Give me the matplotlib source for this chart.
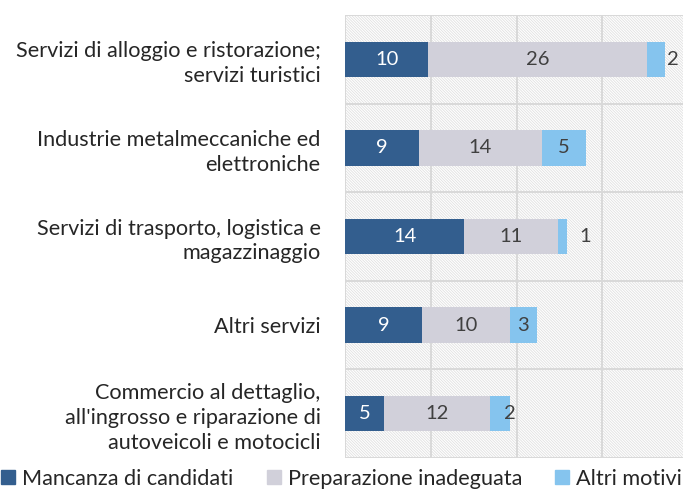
"""
Motivi della difficoltà di reperimento per settore: barre orizzontali impilate.
"""

import matplotlib.pyplot as plt
from matplotlib.lines import Line2D
from matplotlib.patches import Rectangle

# ----------------------------------------------------------------------
# Dati
# ----------------------------------------------------------------------

settori = [
    "Servizi di alloggio e ristorazione;\nservizi turistici",
    "Industrie metalmeccaniche ed\nelettroniche",
    "Servizi di trasporto, logistica e\nmagazzinaggio",
    "Altri servizi",
    "Commercio al dettaglio,\nall'ingrosso e riparazione di\nautoveicoli e motocicli",
]
mancanza_candidati = [9.7, 8.6, 13.9, 8.95, 4.55]
preparazione_inadeguata = [25.5, 14.35, 10.9, 10.25, 12.35]
altri_motivi = [2.1, 5.15, 1.1, 3.2, 2.4]

serie_nomi = ["Mancanza di candidati", "Preparazione inadeguata", "Altri motivi"]
colori = ["#335e8e", "#d1d0da", "#85c4ee"]
colori_testo = ["white", "#404040", "#404040"]

# spostamento orizzontale (px) delle etichette di "Altri motivi"
shift_altri = [17, 0, 23, 0, 10]

GRID = "#d9d9d9"
TESTO = "#262626"

plt.rcParams["font.family"] = ["Lato", "DejaVu Sans"]
plt.rcParams["hatch.color"] = "#e0e0e0"
plt.rcParams["hatch.linewidth"] = 0.6

fig = plt.figure(figsize=(6.83, 4.90), dpi=100)
ax = fig.add_axes([345 / 683, 1 - 458 / 490, 343 / 683, 443 / 490])

# sfondo tratteggiato
ax.add_patch(
    Rectangle(
        (0, 0), 1, 1, transform=ax.transAxes, facecolor="white",
        edgecolor="#e0e0e0", linewidth=0, hatch="\\" * 12, zorder=0,
    )
)

y = list(range(len(settori)))
serie = [mancanza_candidati, preparazione_inadeguata, altri_motivi]
left = [0.0] * len(settori)

for k, valori in enumerate(serie):
    bars = ax.barh(y, valori, left=left, height=0.4, color=colori[k], zorder=3)
    for i, (b, v) in enumerate(zip(bars, valori)):
        xc = b.get_x() + b.get_width() / 2
        dx = shift_altri[i] * 0.72 if k == 2 else 0
        ax.annotate(
            f"{v:.0f}", (xc, b.get_y() + b.get_height() / 2),
            xytext=(dx, 0), textcoords="offset points",
            ha="center", va="center", fontsize=14.5,
            color=colori_testo[k], zorder=4,
        )
    left = [a + v for a, v in zip(left, valori)]

ax.set_xlim(0, 40)
ax.set_ylim(len(settori) - 0.5, -0.5)

ax.set_xticks([0, 10, 20, 30, 40])
ax.set_yticks([i - 0.5 for i in range(len(settori) + 1)], minor=True)
ax.tick_params(axis="x", bottom=False, labelbottom=False)
ax.tick_params(axis="y", which="both", left=False)
ax.grid(axis="x", which="major", color=GRID, linewidth=1.4, zorder=1)
ax.grid(axis="y", which="minor", color=GRID, linewidth=1.4, zorder=1)
ax.set_axisbelow(True)

ax.set_yticks(y)
ax.set_yticklabels(settori, fontsize=15.6, color=TESTO, ha="right",
                   multialignment="right", linespacing=1.3)
ax.tick_params(axis="y", pad=14)

for s in ax.spines.values():
    s.set_visible(False)

handles = [
    Line2D([], [], marker="s", linestyle="none", markersize=10.5,
           markerfacecolor=c, markeredgecolor=c)
    for c in colori
]
fig.legend(
    handles, serie_nomi, loc="center", bbox_to_anchor=(0.5, 1 - 479 / 490),
    ncol=3, frameon=False, fontsize=15.6, handletextpad=0.3,
    columnspacing=1.5, handlelength=0.7, labelcolor=TESTO,
    borderpad=0, borderaxespad=0,
)

fig.savefig("out.png", dpi=100)
